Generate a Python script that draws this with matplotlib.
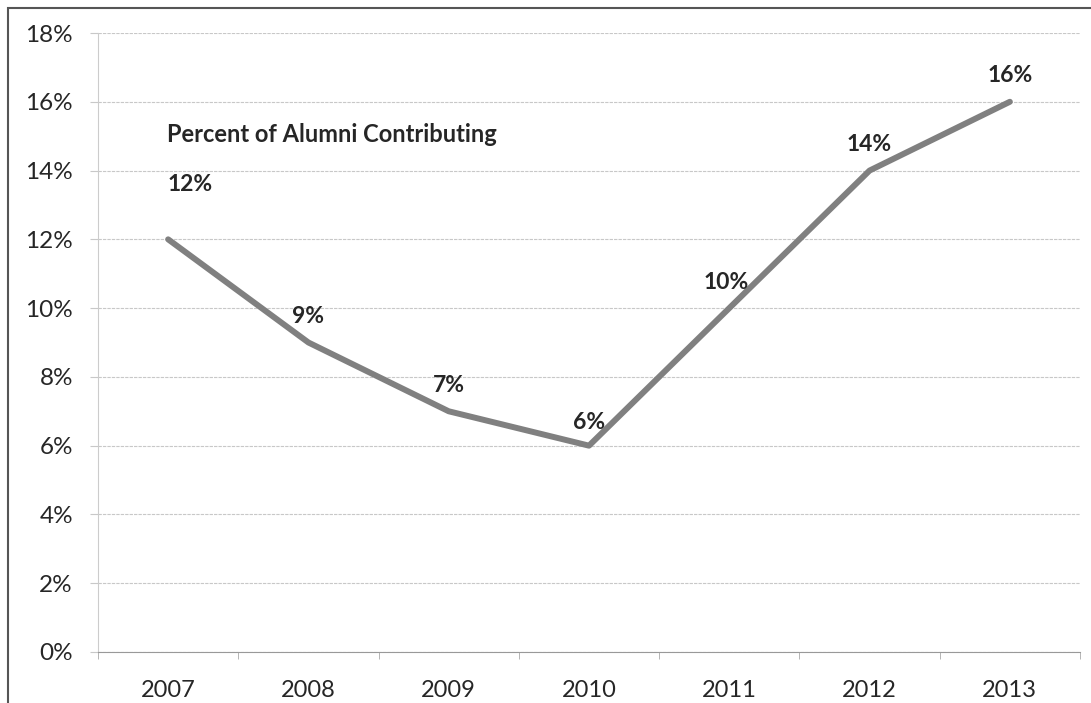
import matplotlib.pyplot as plt
from matplotlib.patches import Rectangle
from matplotlib.ticker import PercentFormatter, FixedLocator

years = ['2007', '2008', '2009', '2010', '2011', '2012', '2013']
pct = [12, 9, 7, 6, 10, 14, 16]
labels = ['12%', '9%', '7%', '6%', '10%', '14%', '16%']
# label nudges in points (dx, dy)
offsets = [(16, 32), (0, 11), (0, 11), (0, 9), (-2, 11), (0, 11), (0, 11)]

plt.rcParams['font.family'] = ['Lato', 'DejaVu Sans']

W, H = 1091, 703
fig = plt.figure(figsize=(W / 100, H / 100), dpi=100)
ax = fig.add_axes([98 / W, 1 - 652 / H, (1080 - 98) / W, (652 - 33) / H])

x = list(range(len(years)))
ax.plot(x, pct, color='#808080', lw=4.3, solid_capstyle='round', zorder=3)

for xi, yi, lab, (dx, dy) in zip(x, pct, labels, offsets):
    ax.annotate(lab, (xi, yi), xytext=(dx, dy), textcoords='offset points',
                ha='center', va='bottom', fontsize=16.5, fontweight='bold',
                color='#262626')

ax.text(-0.005, 15.05, 'Percent of Alumni Contributing', fontsize=17,
        fontweight='bold', color='#262626', ha='left', va='center')

ax.set_xlim(-0.5, len(years) - 0.5)
ax.set_ylim(0, 18)
ax.set_yticks(range(0, 19, 2))
ax.yaxis.set_major_formatter(PercentFormatter(decimals=0))
ax.set_xticks(x)
ax.set_xticklabels(years)
ax.xaxis.set_minor_locator(FixedLocator([i - 0.5 for i in range(len(years) + 1)]))

ax.grid(axis='y', color='#c8c8c8', lw=0.8, ls=(0, (3, 1)))
ax.tick_params(axis='x', which='major', length=0, pad=20, labelsize=17, labelcolor='#262626')
ax.tick_params(axis='x', which='minor', length=5, color='#aaaaaa', direction='out')
ax.tick_params(axis='y', length=6, color='#c8c8c8', pad=12, labelsize=17.5, labelcolor='#262626')

for s in ['top', 'right']:
    ax.spines[s].set_visible(False)
ax.spines['left'].set_color('#cccccc')
ax.spines['bottom'].set_color('#999999')

fig.patches.append(Rectangle((8 / W, -0.1), 1.2, 1 - 8 / H + 0.1,
                             transform=fig.transFigure, fill=False,
                             edgecolor='#555555', lw=1.5))

fig.savefig('out.png', dpi=100)
